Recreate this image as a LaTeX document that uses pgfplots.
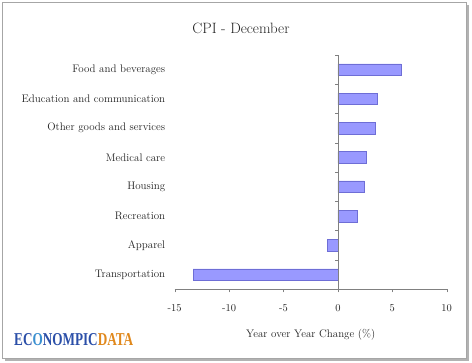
\documentclass[border=0pt]{standalone}
\usepackage{pgfplots}
\pgfplotsset{compat=1.18}
\usepackage{graphicx}
\usepackage{fontspec}
\newfontfamily\logofont{Liberation Serif}
\definecolor{barfill}{HTML}{9999FF}
\definecolor{baredge}{HTML}{6E6ED6}
\definecolor{axgray}{HTML}{808080}
\definecolor{txt}{HTML}{222222}
\definecolor{logoblue}{HTML}{2B4FA8}
\definecolor{logoorange}{HTML}{E0881C}
\definecolor{globe}{HTML}{3A8FD0}
\begin{document}
\begin{tikzpicture}
\useasboundingbox (0,0) rectangle (472bp,-363bp);
% frame with shadow
\fill[gray!60] (5bp,-359bp) rectangle (469bp,-361bp);
\fill[gray!60] (467bp,-5bp) rectangle (469bp,-361bp);
\draw[gray!70, line width=0.8bp] (2bp,-2bp) rectangle (466bp,-358bp);
\begin{axis}[
  at={(174.7bp,-289.3bp)}, anchor=south west,
  scale only axis, width=272bp, height=234.3bp,
  xbar, bar width=11.7bp,
  xmin=-15, xmax=10, ymin=-0.5, ymax=7.5,
  xtick={-15,-10,-5,0,5,10},
  xticklabels={-15,-10,-5,0,5,10},
  ytick={0,1,2,3,4,5,6,7},
  yticklabels={Transportation,Apparel,Recreation,Housing,Medical care,Other goods and services,Education and communication,Food and beverages},
  axis x line*=bottom,
  axis y line*=left,
  y axis line style={draw=none},
  x axis line style={draw=axgray, -},
  major tick length=3bp,
  xtick style={draw=axgray},
  ytick style={draw=none},
  tick align=outside,
  x tick label style={font=\fontsize{10.5}{12}\selectfont, text=txt, yshift=-9bp},
  y tick label style={font=\fontsize{11}{12}\selectfont, text=txt, xshift=-3bp},
  xlabel={Year over Year Change (\%)},
  xlabel style={font=\fontsize{11}{12}\selectfont, text=txt, yshift=-10bp},
  clip=false,
]
\addplot[fill=barfill, draw=baredge, line width=0.6bp] coordinates {
  (-13.3,0) (-0.95,1) (1.8,2) (2.4,3) (2.65,4) (3.4,5) (3.65,6) (5.8,7)
};
\draw[axgray, line width=0.6bp] (axis cs:0,-0.5) -- (axis cs:0,7.5);
\pgfplotsinvokeforeach{-0.5,0.5,1.5,2.5,3.5,4.5,5.5,6.5,7.5}{
  \draw[axgray, line width=0.6bp] (axis cs:0,#1) -- ++(-3bp,0bp);
}
\end{axis}
\node[font=\fontsize{15}{18}\selectfont, text=txt] at (241bp,-28bp) {CPI - December};
\node[anchor=west, inner sep=0pt] at (14bp,-340bp) {\resizebox{119bp}{12bp}{\logofont\bfseries\color{logoblue}EC{\color{globe}O}NOMPIC{\color{logoorange}DATA}}};
\end{tikzpicture}
\end{document}
